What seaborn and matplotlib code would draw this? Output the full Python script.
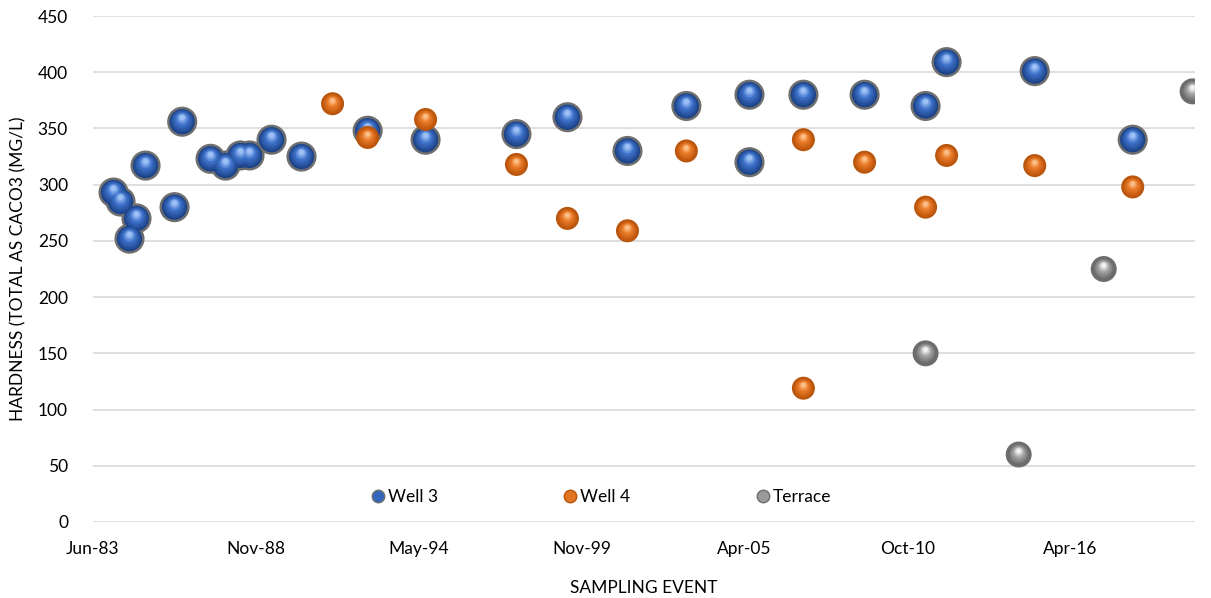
import numpy as np
import pandas as pd
import seaborn as sns
import matplotlib
matplotlib.use("Agg")
import matplotlib.pyplot as plt
import matplotlib.dates as mdates
from matplotlib.transforms import offset_copy
from matplotlib.lines import Line2D
from matplotlib.colors import to_rgb

# hardness readings per source
well3_dates = ["1984-02-08", "1984-05-04", "1984-08-22", "1984-11-16", "1985-03-07",
               "1986-02-26", "1986-05-31", "1987-05-14", "1987-11-14", "1988-05-16",
               "1988-09-04", "1989-06-01", "1990-06-04", "1992-08-24", "1994-08-05",
               "1997-08-25", "1999-05-13", "2001-05-19", "2003-05-12", "2005-06-25",
               "2005-06-25", "2007-04-18", "2009-05-08", "2011-05-27", "2012-02-09",
               "2015-01-26", "2018-05-13"]
well3_hardness = [293, 285, 252, 270, 317, 280, 356, 323, 317, 326,
                  326, 340, 325, 348, 340, 345, 360, 330, 370, 380,
                  320, 380, 380, 370, 409, 401, 340]

well4_dates = ["1991-06-20", "1992-08-24", "1994-08-05", "1997-08-25", "1999-05-13",
               "2001-05-19", "2003-05-12", "2007-04-18", "2007-04-18", "2009-05-08",
               "2011-05-27", "2012-02-09", "2015-01-26", "2018-05-13"]
well4_hardness = [372, 342, 358, 318, 270, 259, 330, 340, 119, 320,
                  280, 326, 317, 298]

terrace_dates = ["2011-05-27", "2014-07-13", "2017-05-22", "2020-05-17"]
terrace_hardness = [150, 60, 225, 383]

series_names = ["Well 3", "Well 4", "Terrace"]

sns.set_style("white")
plt.rcParams["font.family"] = ["Lato", "DejaVu Sans"]
plt.rcParams["text.color"] = "black"
plt.rcParams["axes.labelcolor"] = "black"

fig = plt.figure(figsize=(12.11, 5.98), dpi=100)
ax = fig.add_axes([0.0768, 0.1271, 0.9100, 0.8461])


def mix(c1, c2, t):
    a, b = np.array(to_rgb(c1)), np.array(to_rgb(c2))
    return tuple(a + (b - a) * t)


def spheres(dates, vals, size, rim, dark, mid, light, zorder):
    x = pd.to_datetime(dates)
    # outer rim
    sns.scatterplot(x=x, y=vals, ax=ax, s=size, color=rim, edgecolor="none",
                    zorder=zorder, legend=False)
    d = np.sqrt(size)
    # shaded body: dark edge -> mid tone -> small highlight near the top
    n = 8
    for i in range(n):
        t = i / (n - 1)
        frac = 0.84 - 0.66 * t
        if t < 0.6:
            col = mix(dark, mid, t / 0.6)
        else:
            col = mix(mid, light, (t - 0.6) / 0.4)
        tr = offset_copy(ax.transData, fig=fig, x=0, y=d * 0.14 * t, units="points")
        sns.scatterplot(x=x, y=vals, ax=ax, s=size * frac ** 2, color=col,
                        edgecolor="none", zorder=zorder + 0.01 * (i + 1),
                        transform=tr, legend=False)


spheres(well3_dates, well3_hardness, 470, "#6f6f6f", "#1d4489", "#3f73cc", "#9cc0f5", 3)
spheres(well4_dates, well4_hardness, 275, "#b9560e", "#c45a10", "#ec7f2c", "#fbc08a", 4)
spheres(terrace_dates, terrace_hardness, 350, "#6e6e6e", "#6a6a6a", "#a6a6a6", "#f2f2f2", 5)

start = pd.Timestamp("1983-06-01")
ticks = [start + pd.Timedelta(days=2000 * k) for k in range(7)]
ax.set_xlim(start, start + pd.Timedelta(days=13530))
ax.set_xticks(ticks)
ax.xaxis.set_major_formatter(mdates.DateFormatter("%b-%y"))
ax.set_ylim(0, 450)
ax.set_yticks(range(0, 451, 50))

ax.grid(axis="y", color="#d9d9d9", linewidth=1.2)
ax.grid(axis="x", visible=False)
for s in ax.spines.values():
    s.set_visible(False)
ax.tick_params(axis="both", length=0, labelsize=12.5, colors="black")
ax.tick_params(axis="x", pad=14)
ax.tick_params(axis="y", pad=18)

ax.set_xlabel("SAMPLING EVENT", fontsize=12.5, labelpad=16)
ax.set_ylabel("HARDNESS (TOTAL AS CACO3 (MG/L)", fontsize=12.5, labelpad=8)

legend_colors = ["#3366bb", "#e07522", "#9a9a9a"]
legend_rims = ["#6f6f6f", "#b9560e", "#6e6e6e"]
handles = [Line2D([], [], linestyle="none", marker="o", markersize=9,
                  markerfacecolor=c, markeredgecolor=r, markeredgewidth=1)
           for c, r in zip(legend_colors, legend_rims)]
ax.legend(handles, series_names, loc="center", bbox_to_anchor=(0.461, 0.049),
          ncol=3, frameon=False, fontsize=12.5, handlelength=0.8,
          handletextpad=0.2, columnspacing=7.2)

fig.savefig("out.png", dpi=100)
